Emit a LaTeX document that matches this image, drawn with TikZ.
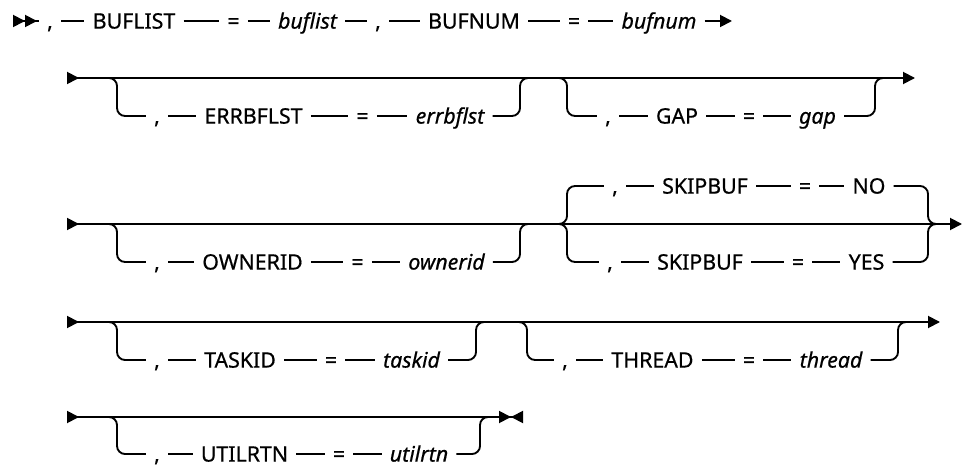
\documentclass[tikz,border=0pt]{standalone}
\usepackage{fontspec}
\setmainfont{Noto Sans}[FakeBold=0.6]
\usetikzlibrary{arrows.meta}
\newcommand\tokfont{\fontsize{16}{19}\selectfont}
\tikzset{
  rail/.style={line width=1.4pt},
  hook/.style={rail,rounded corners=6pt},
  tok/.style={inner xsep=6pt,inner ysep=0pt,text height=11.4pt,text depth=0pt,font=\tokfont},
  var/.style={tok,font=\tokfont\itshape},
  tri/.tip={Triangle[length=9pt,width=9pt]},
  irt/.tip={Triangle[length=9pt,width=9pt,reversed]},
}
\begin{document}
\begin{tikzpicture}[x=0.75pt,y=-0.75pt]
                \useasboundingbox (0,0) rectangle (962,466);
                % row 1
                \coordinate (r1s) at (13,21);
                \coordinate (r1t) at (732,21);
                \node[tok] (r1c1) at (50,21) {,};
                \node[tok] (bufl) at (134,21) {BUFLIST};
                \node[tok] (r1e1) at (233.5,21) {=};
                \node[var] (buflv) at (307.5,21) {buflist};
                \node[tok] (r1c2) at (378,21) {,};
                \node[tok] (bufn) at (474,21) {BUFNUM};
                \node[tok] (r1e2) at (574,21) {=};
                \node[var] (bufnv) at (659,21) {bufnum};
                \draw[rail,{irt[]irt[]}-] (r1s) -- (r1c1);
                \foreach \a/\b in {r1c1/bufl,bufl/r1e1,r1e1/buflv,buflv/r1c2,r1c2/bufn,bufn/r1e2,r1e2/bufnv}
                    \draw[rail] (\a) -- (\b);
                \draw[rail,-tri] (bufnv) -- (r1t);
                % row 2
                \coordinate (r2s) at (67,78);
                \coordinate (r2t) at (915,78);
                \coordinate (r2a) at (100,78);
                \coordinate (r2b) at (117,116);
                \coordinate (r2u) at (520,78);
                \coordinate (r2f) at (550,78);
                \coordinate (r2g) at (567,116);
                \coordinate (r2v) at (875,78);
                \node[tok] (r2c1) at (157,116) {,};
                \node[tok] (errb) at (253.5,116) {ERRBFLST};
                \node[tok] (r2e1) at (362.5,116) {=};
                \node[var] (errbv) at (450,116) {errbflst};
                \node[tok] (r2c2) at (608,116) {,};
                \node[tok] (gapk) at (677,116) {GAP};
                \node[tok] (r2e2) at (749,116) {=};
                \node[var] (gapv) at (817.5,116) {gap};
                \draw[rail,irt-tri] (r2s) -- (r2t);
                \draw[hook] (r2a) -| (r2b) -- (r2c1);
                \draw[hook] (errbv) -| (r2u) -- ++(14,0);
                \draw[hook] (r2f) -| (r2g) -- (r2c2);
                \draw[hook] (gapv) -| (r2v) -- ++(14,0);
                \foreach \a/\b in {r2c1/errb,errb/r2e1,r2e1/errbv,r2c2/gapk,gapk/r2e2,r2e2/gapv}
                    \draw[rail] (\a) -- (\b);
                % row 3
                \coordinate (r3s) at (67,224);
                \coordinate (r3t) at (962,224);
                \coordinate (r3a) at (100,224);
                \coordinate (r3b) at (117,262);
                \coordinate (r3u) at (520,224);
                \coordinate (r3f) at (550,224);
                \coordinate (r3g) at (567,186);
                \coordinate (r3h) at (567,262);
                \coordinate (r3w) at (928,224);
                \node[tok] (r3c1) at (157,262) {,};
                \node[tok] (ownr) at (252.5,262) {OWNERID};
                \node[tok] (r3e1) at (357.5,262) {=};
                \node[var] (ownrv) at (446.5,262) {ownerid};
                \node[tok] (r3c2) at (615,186) {,};
                \node[tok] (skpn) at (705,186) {SKIPBUF};
                \node[tok] (r3e2) at (805,186) {=};
                \node[tok] (nov) at (869,186) {NO};
                \node[tok] (r3c3) at (610,262) {,};
                \node[tok] (skpy) at (700,262) {SKIPBUF};
                \node[tok] (r3e3) at (798,262) {=};
                \node[tok] (yesv) at (866.5,262) {YES};
                \draw[rail,irt-tri] (r3s) -- (r3t);
                \draw[hook] (r3a) -| (r3b) -- (r3c1);
                \draw[hook] (ownrv) -| (r3u) -- ++(14,0);
                \draw[hook] (r3f) -| (r3g) -- (r3c2);
                \draw[hook] (r3f) -| (r3h) -- (r3c3);
                \draw[hook] (nov) -| (r3w) -- ++(14,0);
                \draw[hook] (yesv) -| (r3w) -- ++(14,0);
                \foreach \a/\b in {r3c1/ownr,ownr/r3e1,r3e1/ownrv,r3c2/skpn,skpn/r3e2,r3e2/nov,r3c3/skpy,skpy/r3e3,r3e3/yesv}
                    \draw[rail] (\a) -- (\b);
                % row 4
                \coordinate (r4s) at (67,322);
                \coordinate (r4t) at (940,322);
                \coordinate (r4a) at (100,322);
                \coordinate (r4b) at (117,360);
                \coordinate (r4u) at (476,322);
                \coordinate (r4f) at (510,322);
                \coordinate (r4g) at (527,360);
                \coordinate (r4v) at (898,322);
                \node[tok] (r4c1) at (157,360) {,};
                \node[tok] (task) at (240,360) {TASKID};
                \node[tok] (r4e1) at (331,360) {=};
                \node[var] (taskv) at (411.5,360) {taskid};
                \node[tok] (r4c2) at (565,360) {,};
                \node[tok] (thrd) at (652.5,360) {THREAD};
                \node[tok] (r4e2) at (749,360) {=};
                \node[var] (thrdv) at (831,360) {thread};
                \draw[rail,irt-tri] (r4s) -- (r4t);
                \draw[hook] (r4a) -| (r4b) -- (r4c1);
                \draw[hook] (taskv) -| (r4u) -- ++(14,0);
                \draw[hook] (r4f) -| (r4g) -- (r4c2);
                \draw[hook] (thrdv) -| (r4v) -- ++(14,0);
                \foreach \a/\b in {r4c1/task,task/r4e1,r4e1/taskv,r4c2/thrd,thrd/r4e2,r4e2/thrdv}
                    \draw[rail] (\a) -- (\b);
                % row 5
                \coordinate (r5s) at (67,417);
                \coordinate (r5t) at (523,417);
                \coordinate (r5a) at (100,417);
                \coordinate (r5b) at (117,454);
                \coordinate (r5u) at (480,417);
                \node[tok] (r5c1) at (157,454) {,};
                \node[tok] (utl) at (244.5,454) {UTILRTN};
                \node[tok] (r5e1) at (339,454) {=};
                \node[var] (utlv) at (419,454) {utilrtn};
                \draw[rail,irt-{tri[]irt[]}] (r5s) -- (r5t);
                \draw[hook] (r5a) -| (r5b) -- (r5c1);
                \draw[hook] (utlv) -| (r5u) -- ++(12,0);
                \foreach \a/\b in {r5c1/utl,utl/r5e1,r5e1/utlv}
                    \draw[rail] (\a) -- (\b);
            \end{tikzpicture}
\end{document}
